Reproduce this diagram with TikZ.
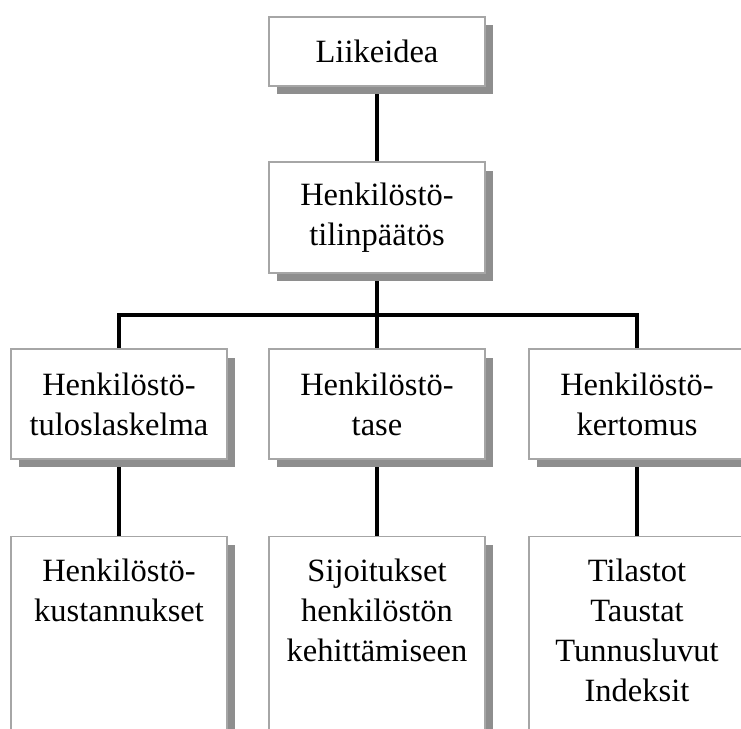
\documentclass[tikz,border=0pt]{standalone}
\usepackage{fontspec}
\setmainfont{Liberation Serif}
\usetikzlibrary{positioning,shadows,backgrounds}
\definecolor{Frame}{HTML}{A6A6A6}
\definecolor{Shade}{HTML}{8E8E8E}
\tikzset{
  conn/.style={line width=2.1pt,draw=black},
  boxstyle/.style={draw=Frame,line width=0.8pt,fill=white,minimum width=4.32cm,align=center,
    drop shadow={shadow xshift=.16cm,shadow yshift=-.17cm,fill=Shade,opacity=1}},
  txt/.style={align=center,inner sep=0pt}
}

\begin{document}
\begin{tikzpicture}[x=.02cm,y=-.02cm,font=\fontsize{18.5}{22.7}\selectfont]
  \useasboundingbox (0,0) rectangle (741,729);
  \clip (0,0) rectangle (741,729);
  % top
  \node[boxstyle,minimum height=1.38cm] (idea) at (377,51.5) {Liikeidea};
  \node[boxstyle,minimum height=2.22cm] (tp) at (377,217.5) {Henkilöstö-\\tilinpäätös};
  % middle row
  \node[boxstyle,minimum height=2.2cm] (tul) at (119,404) {Henkilöstö-\\tuloslaskelma};
  \node[boxstyle,minimum height=2.2cm] (tase) at (377,404) {Henkilöstö-\\tase};
  \node[boxstyle,minimum height=2.2cm] (ker) at (637,404) {Henkilöstö-\\kertomus};
  % bottom row (cut off by the page)
  \node[boxstyle,anchor=north,minimum height=4.6cm] (kust) at (119,536) {};
  \node[boxstyle,anchor=north,minimum height=4.6cm] (sij) at (377,536) {};
  \node[boxstyle,anchor=north,minimum height=4.6cm] (til) at (637,536) {};
  \node[txt,below=.46cm of kust.north] (kusttxt) {Henkilöstö-\\kustannukset};
  \node[txt,below=.46cm of sij.north] (sijtxt) {Sijoitukset\\henkilöstön\\kehittämiseen};
  \node[txt,below=.46cm of til.north] (tiltxt) {Tilastot\\Taustat\\Tunnusluvut\\Indeksit};
  \coordinate (bar) at (377,315);
  \begin{scope}[on background layer]
    \draw[conn] (idea.south) -- (tp.north);
    \draw[conn] (tp.south) -- (bar) -- (tase.north);
    \draw[conn] (tul.north) |- (bar) -| (ker.north);
    \draw[conn] (tul.south) -- (kust.north);
    \draw[conn] (tase.south) -- (sij.north);
    \draw[conn] (ker.south) -- (til.north);
  \end{scope}
\end{tikzpicture}
\end{document}
